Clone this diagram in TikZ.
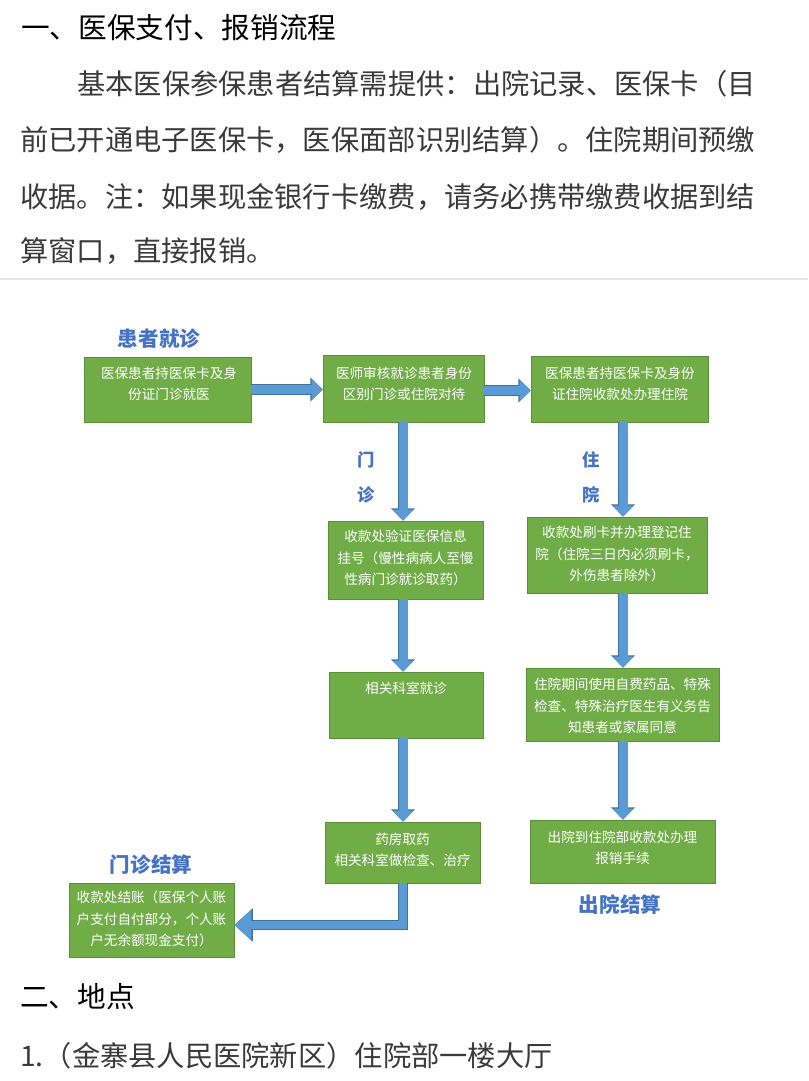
\documentclass[tikz,border=0pt]{standalone}
\usepackage{fontspec}
\setmainfont{Noto Sans CJK SC}
\usetikzlibrary{arrows.meta,calc}
\definecolor{boxgreen}{HTML}{70AD47}
\definecolor{boxedge}{HTML}{5A8F38}
\definecolor{arrblue}{HTML}{5B9BD5}
\definecolor{arredge}{HTML}{41719C}
\definecolor{lblblue}{HTML}{4472C4}
\definecolor{bodygray}{HTML}{3A3A3A}
\definecolor{rulegray}{HTML}{E6E6E6}
\begin{document}
\begin{tikzpicture}[x=0.75pt,y=-0.75pt,
  box/.style={draw=boxedge, fill=boxgreen, line width=0.6pt, inner sep=0pt, rectangle},
  btxt/.style={text=white, align=center, font=\fontsize{10.2pt}{16pt}\selectfont, inner sep=0pt},
  lbl/.style={text=lblblue, font=\fontsize{15.4pt}{16pt}\selectfont\bfseries, inner sep=0pt},
  slbl/.style={text=lblblue, font=\fontsize{13pt}{14pt}\selectfont\bfseries, inner sep=0pt},
  body/.style={anchor=west, text=bodygray, font=\fontsize{21.2pt}{22pt}\selectfont, inner sep=0pt},
  head/.style={anchor=west, text=black, font=\fontsize{21.5pt}{22pt}\selectfont, inner sep=0pt},
  flow/.style={line width=6.75pt, draw=arrblue, -{Triangle[width=15.75pt,length=8.25pt]},
    preaction={draw=arredge, line width=7.9pt, -{Triangle[width=17.5pt,length=9.2pt]}}},
  flowbig/.style={line width=6.5pt, draw=arrblue, -{Triangle[width=22.5pt,length=12.75pt]},
    preaction={draw=arredge, line width=7.7pt, -{Triangle[width=24.2pt,length=13.8pt]}}},
]
\fill[white] (0,0) rectangle (808,1081);
\useasboundingbox (0,0) rectangle (808,1081);

% ---- top text ----
\node[head] (h1) at (21,27.5) {一、医保支付、报销流程};
\node[body] (p1) at (77,84) {基本医保参保患者结算需提供：出院记录、医保卡（目};
\node[body] (p2) at (20,140) {前已开通电子医保卡，医保面部识别结算）。住院期间预缴};
\node[body] (p3) at (20,197) {收据。注：如果现金银行卡缴费，请务必携带缴费收据到结};
\node[body] (p4) at (20,251) {算窗口，直接报销。};
\draw[rulegray, line width=1.5pt] (0,279) -- (808,279);

% ---- column coordinates ----
\coordinate (colL) at (403,0);
\coordinate (colR) at (623,0);

% ---- boxes ----
\node[box, minimum width=125.25pt, minimum height=48.75pt] (b1) at (167.5,389.5) {};
\node[box, minimum width=120.75pt, minimum height=50.25pt] (b2) at (403.5,388.5) {};
\node[box, minimum width=132.75pt, minimum height=49.5pt] (b3) at (619.5,389) {};
\node[box, minimum width=116.25pt, minimum height=58.5pt] (b4) at (405.5,560) {};
\node[box, minimum width=135pt, minimum height=57pt] (b5) at (617,555) {};
\node[box, minimum width=115.5pt, minimum height=49.5pt] (b6) at (406,705) {};
\node[box, minimum width=144.75pt, minimum height=54.75pt] (b7) at (622.5,704.5) {};
\node[box, minimum width=116.25pt, minimum height=45.75pt] (b8) at (402.5,852.5) {};
\node[box, minimum width=138.75pt, minimum height=47.25pt] (b9) at (622.5,851.5) {};
\node[box, minimum width=123.75pt, minimum height=55.5pt] (b10) at (151.5,920) {};

% ---- box texts ----
\node[btxt] (t1) at (169,384) {医保患者持医保卡及身\\份证门诊就医};
\node[btxt] (t2) at (404,384) {医师审核就诊患者身份\\区别门诊或住院对待};
\node[btxt] (t3) at (620,384) {医保患者持医保卡及身份\\证住院收款处办理住院};
\node[btxt] (t4) at (405.5,558) {收款处验证医保信息\\挂号（慢性病病人至慢\\性病门诊就诊取药）};
\node[btxt] (t5) at (617,554) {收款处刷卡并办理登记住\\院（住院三日内必须刷卡，\\外伤患者除外）};
\node[btxt] (t6) at (406,688) {相关科室就诊};
\node[btxt] (t7) at (622.5,706) {住院期间使用自费药品、特殊\\检查、特殊治疗医生有义务告\\知患者或家属同意};
\node[btxt] (t8) at (402.5,850) {药房取药\\相关科室做检查、治疗};
\node[btxt] (t9) at (622.5,848) {出院到住院部收款处办理\\报销手续};
\node[btxt] (t10) at (151.5,919) {收款处结账（医保个人账\\户支付自付部分，个人账\\户无余额现金支付）};

% ---- labels ----
\node[lbl] (l1) at (159,339) {患者就诊};
\node[slbl] (m1) at (366,460) {门};
\node[slbl] (m2) at (366,495) {诊};
\node[slbl] (z1) at (591,460) {住};
\node[slbl] (z2) at (591,495) {院};
\node[lbl] (l2) at (151,865) {门诊结算};
\node[lbl] (l3) at (620,905) {出院结算};

% ---- arrows ----
\draw[flow] (b1.east) -- (b1.east -| b2.west);
\draw[flow] ($(b2.east)+(0,2)$) -- ($(b2.east -| b3.west)+(0,2)$);
\draw[flow] (b2.south -| colL) -- (b4.north -| colL);
\draw[flow] (b4.south -| colL) -- (b6.north -| colL);
\draw[flow] (b6.south -| colL) -- (b8.north -| colL);
\draw[flow] (b3.south -| colR) -- (b5.north -| colR);
\draw[flow] (b5.south -| colR) -- (b7.north -| colR);
\draw[flow] (b7.south -| colR) -- (b9.north -| colR);
\draw[flowbig] (b8.south -| colL) |- ($(b10.east)+(0,5)$);

% ---- bottom text ----
\node[head] (h2) at (20,997) {二、地点};
\node[body] (p5) at (20,1056) {1.（金寨县人民医院新区）住院部一楼大厅};
\end{tikzpicture}
\end{document}
